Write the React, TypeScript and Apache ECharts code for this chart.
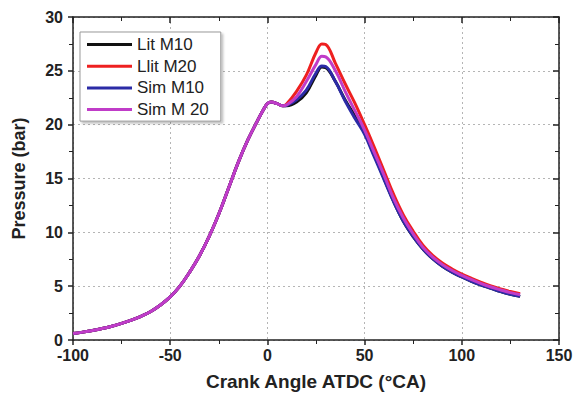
import React, { useEffect, useRef } from "react";
import * as echarts from "echarts";

const angles = [-100, -95, -90, -85, -80, -75, -70, -65, -60, -55, -50, -45, -40, -35, -30, -25, -20, -15, -10, -5, -2, 0, 2, 5, 8,
  10, 15, 20, 25, 28, 30, 35, 40, 45, 50, 55, 60, 65, 70, 75, 80, 85, 90, 95, 100, 105, 110, 115, 120, 125, 130];
const compression = [0.6, 0.73, 0.88, 1.06, 1.28, 1.54, 1.84, 2.2, 2.65, 3.25, 4.0, 5.0, 6.3, 7.8, 9.6, 11.7, 14.1, 16.5, 18.6, 20.4, 21.4, 21.95, 22.1, 21.95, 21.75];
const litM10Tail = [21.75, 22.1, 22.95, 24.6, 25.35, 25.3, 24.0, 22.3, 20.8, 19.3, 17.2, 15.0, 12.85, 11.0, 9.6, 8.45, 7.55, 6.85, 6.3, 5.85, 5.45, 5.1, 4.8, 4.5, 4.25, 4.05];
const litM20Tail = [21.95, 23.1, 24.6, 26.7, 27.5, 27.45, 25.7, 23.8, 22.0, 20.0, 17.9, 15.7, 13.5, 11.6, 10.1, 8.8, 7.85, 7.15, 6.6, 6.12, 5.72, 5.35, 5.02, 4.75, 4.5, 4.3];
const simM10Tail = [21.8, 22.3, 23.2, 24.8, 25.45, 25.4, 24.0, 22.2, 20.6, 19.1, 17.0, 14.9, 12.8, 11.0, 9.6, 8.45, 7.55, 6.85, 6.3, 5.85, 5.45, 5.1, 4.8, 4.5, 4.25, 4.05];
const simM20Tail = [21.85, 22.6, 24.0, 25.6, 26.35, 26.3, 25.0, 23.1, 21.3, 19.5, 17.4, 15.3, 13.1, 11.3, 9.85, 8.6, 7.7, 7.0, 6.45, 6.0, 5.6, 5.24, 4.92, 4.65, 4.4, 4.2];

const seriesNames = ["Lit M10", "Llit M20", "Sim M10", "Sim M 20"];
const seriesColors = ["#111111", "#ee2020", "#2b2ba6", "#c03cc8"];
const xTicks = [-100, 150, 50];
const yTicks = [0, 30, 5];

const FONT = "'Liberation Sans', Arial, sans-serif";

function build(tail: number[]) {
  const ys = compression.concat(tail);
  return angles.map((a, i) => [a, ys[i]]);
}

export default function App() {
  const ref = useRef<HTMLDivElement>(null);
  useEffect(() => {
    if (!ref.current) return;
    const chart = echarts.init(ref.current, undefined, { renderer: "svg" });
    const tails = [litM10Tail, litM20Tail, simM10Tail, simM20Tail];
    const axisLine = { show: true, onZero: false, lineStyle: { color: "#222", width: 1.5 } };
    chart.setOption({
      animation: false,
      backgroundColor: "#ffffff",
      grid: { left: 73, right: 20, top: 17, bottom: 61 },
      legend: {
        orient: "vertical",
        left: 80,
        top: 32,
        data: seriesNames,
        icon: "rect",
        itemWidth: 45,
        itemHeight: 3,
        itemGap: 4.7,
        padding: [4, 12, 3, 7],
        borderColor: "#999",
        borderWidth: 1,
        backgroundColor: "#fff",
        shadowColor: "rgba(0,0,0,0.25)",
        shadowOffsetX: 2,
        shadowOffsetY: 2,
        shadowBlur: 2,
        textStyle: { fontFamily: FONT, fontSize: 17, color: "#222", lineHeight: 17 },
      },
      xAxis: [
        {
          type: "value",
          min: xTicks[0],
          max: xTicks[1],
          interval: xTicks[2],
          position: "bottom",
          name: "Crank Angle ATDC (°CA)",
          nameLocation: "middle",
          nameGap: 32,
          nameTextStyle: { fontFamily: FONT, fontSize: 19, fontWeight: "bold", color: "#222" },
          axisLine,
          axisTick: { show: true, inside: false, length: 5, lineStyle: { color: "#222", width: 1.5 } },
          minorTick: { show: true, splitNumber: 2, length: 4, lineStyle: { color: "#222", width: 1 } },
          axisLabel: { fontFamily: FONT, fontSize: 16, fontWeight: "bold", color: "#222", margin: 7 },
          splitLine: { show: true, lineStyle: { color: "#b5b5b5", type: [2, 3], width: 1 } },
        },
        {
          type: "value",
          min: xTicks[0],
          max: xTicks[1],
          interval: xTicks[2],
          position: "top",
          axisLine,
          axisTick: { show: true, inside: true, length: 6, lineStyle: { color: "#222", width: 1.5 } },
          minorTick: { show: true, splitNumber: 2, length: 4, lineStyle: { color: "#222", width: 1 } },
          axisLabel: { show: false },
          splitLine: { show: false },
        },
      ],
      yAxis: [
        {
          type: "value",
          min: yTicks[0],
          max: yTicks[1],
          interval: yTicks[2],
          position: "left",
          name: "Pressure (bar)",
          nameLocation: "middle",
          nameGap: 45,
          nameTextStyle: { fontFamily: FONT, fontSize: 18, fontWeight: "bold", color: "#222" },
          axisLine,
          axisTick: { show: true, inside: false, length: 5, lineStyle: { color: "#222", width: 1.5 } },
          minorTick: { show: true, splitNumber: 2, length: 4, lineStyle: { color: "#222", width: 1 } },
          axisLabel: { fontFamily: FONT, fontSize: 16, fontWeight: "bold", color: "#222", margin: 10 },
          splitLine: { show: true, lineStyle: { color: "#b5b5b5", type: [2, 3], width: 1 } },
        },
        {
          type: "value",
          min: yTicks[0],
          max: yTicks[1],
          interval: yTicks[2],
          position: "right",
          axisLine,
          axisTick: { show: true, inside: true, length: 6, lineStyle: { color: "#222", width: 1.5 } },
          minorTick: { show: true, splitNumber: 2, length: 4, lineStyle: { color: "#222", width: 1 } },
          axisLabel: { show: false },
          splitLine: { show: false },
        },
      ],
      series: seriesNames.map((name, i) => ({
        name,
        type: "line",
        xAxisIndex: 0,
        yAxisIndex: 0,
        data: build(tails[i]),
        smooth: 0.4,
        showSymbol: false,
        symbol: "none",
        color: seriesColors[i],
        lineStyle: { color: seriesColors[i], width: 3 },
        z: 2 + i,
      })),
    });
    return () => chart.dispose();
  }, []);
  return <div ref={ref} style={{ position: "fixed", left: 0, top: 0, width: 579, height: 401 }} />;
}
